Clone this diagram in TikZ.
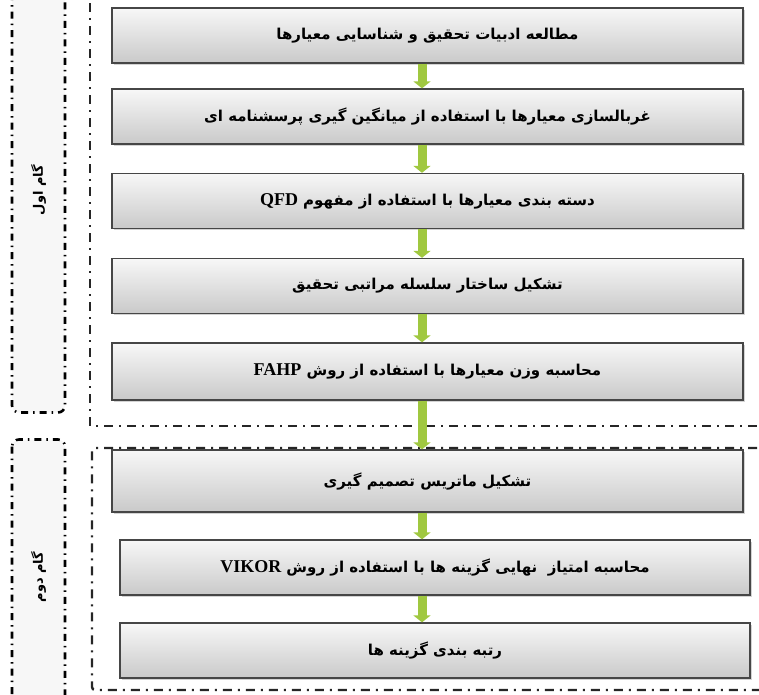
\documentclass[tikz,border=0pt]{standalone}
\usepackage{fontspec}
\usepackage{tikz}
\usetikzlibrary{positioning, calc, shapes, arrows.meta, shadows}
\newfontfamily\farsi[Script=Arabic]{DejaVu Sans}
\newfontfamily\latin[Scale=1.2]{Liberation Serif}
\TeXXeTstate=1
\definecolor{arrowgreen}{RGB}{160,200,64}
\definecolor{boxedge}{RGB}{70,70,70}
\tikzstyle{Flow} = [
%green block arrow between steps:
draw=arrowgreen, line width = 9pt,
-{Triangle[width=17pt, length=7pt]}
]

\begin{document}
\begin{tikzpicture}[x=1pt, y=-1pt,
			process/.style = {rectangle, draw=boxedge, line width=1.3pt, top color=gray!6, bottom color=gray!42,
				drop shadow={shadow xshift=1.5pt, shadow yshift=-1.5pt, opacity=0.35},
				minimum width=631pt, minimum height=55pt, font=\farsi\bfseries\fontsize{15}{18}\selectfont},
			stagebox/.style = {rectangle, rounded corners=7pt, draw=black, fill=gray!6, line width=2.6pt,
				dash pattern=on 7pt off 5pt on 1.5pt off 5pt, minimum height=53pt, font=\farsi\bfseries\fontsize{13}{15}\selectfont},
			panel/.style = {draw=black!85, line width=2.4pt, dash pattern=on 9pt off 6pt on 2pt off 6pt},
		]
		\useasboundingbox (0,0) rectangle (759,694);
		\clip (0,0) rectangle (759,694);

		\draw[panel] (90,-20)--(90,426)--(780,426);
		\draw[panel, rounded corners=3pt] (780,448)--(92,448)--(92,690)--(780,690);

		\node[stagebox, minimum width=445pt, rotate=90] (G1) at (38.5,190){\beginR گام اول\endR};
		\node[stagebox, minimum width=275pt, rotate=90] (G2) at (38.5,577){\beginR گام دوم\endR};

		\node[process] (S1) at (427.5,35.5){\beginR مطالعه ادبیات تحقیق و شناسایی معیارها\endR};
		\node[process] (S2) at (427.5,116.5){\beginR غربالسازی معیارها با استفاده از میانگین گیری پرسشنامه ای\endR};
		\node[process] (S3) at (427.5,201){\beginR دسته بندی معیارها با استفاده از مفهوم {\latin\bfseries QFD}\endR};
		\node[process] (S4) at (427.5,286){\beginR تشکیل ساختار سلسله مراتبی تحقیق\endR};
		\node[process, minimum height=57pt] (S5) at (427.5,371.5){\beginR محاسبه وزن معیارها با استفاده از روش {\latin\bfseries FAHP}\endR};
		\node[process, minimum height=62pt] (S6) at (427.5,481){\beginR تشکیل ماتریس تصمیم گیری\endR};
		\node[process, minimum width=630pt] (S7) at (435,567.5){\beginR محاسبه امتیاز\ \ نهایی گزینه ها با استفاده از روش {\latin\bfseries VIKOR}\endR};
		\node[process, minimum width=630pt] (S8) at (435,650.5){\beginR رتبه بندی گزینه ها\endR};

		\coordinate (AX) at (422,0);
		\draw[Flow](S1.south -| AX)--(S2.north -| AX);
		\draw[Flow](S2.south -| AX)--(S3.north -| AX);
		\draw[Flow](S3.south -| AX)--(S4.north -| AX);
		\draw[Flow](S4.south -| AX)--(S5.north -| AX);
		\draw[Flow](S5.south -| AX)--(S6.north -| AX);
		\draw[Flow](S6.south -| AX)--(S7.north -| AX);
		\draw[Flow](S7.south -| AX)--(S8.north -| AX);

	\end{tikzpicture}
\end{document}
